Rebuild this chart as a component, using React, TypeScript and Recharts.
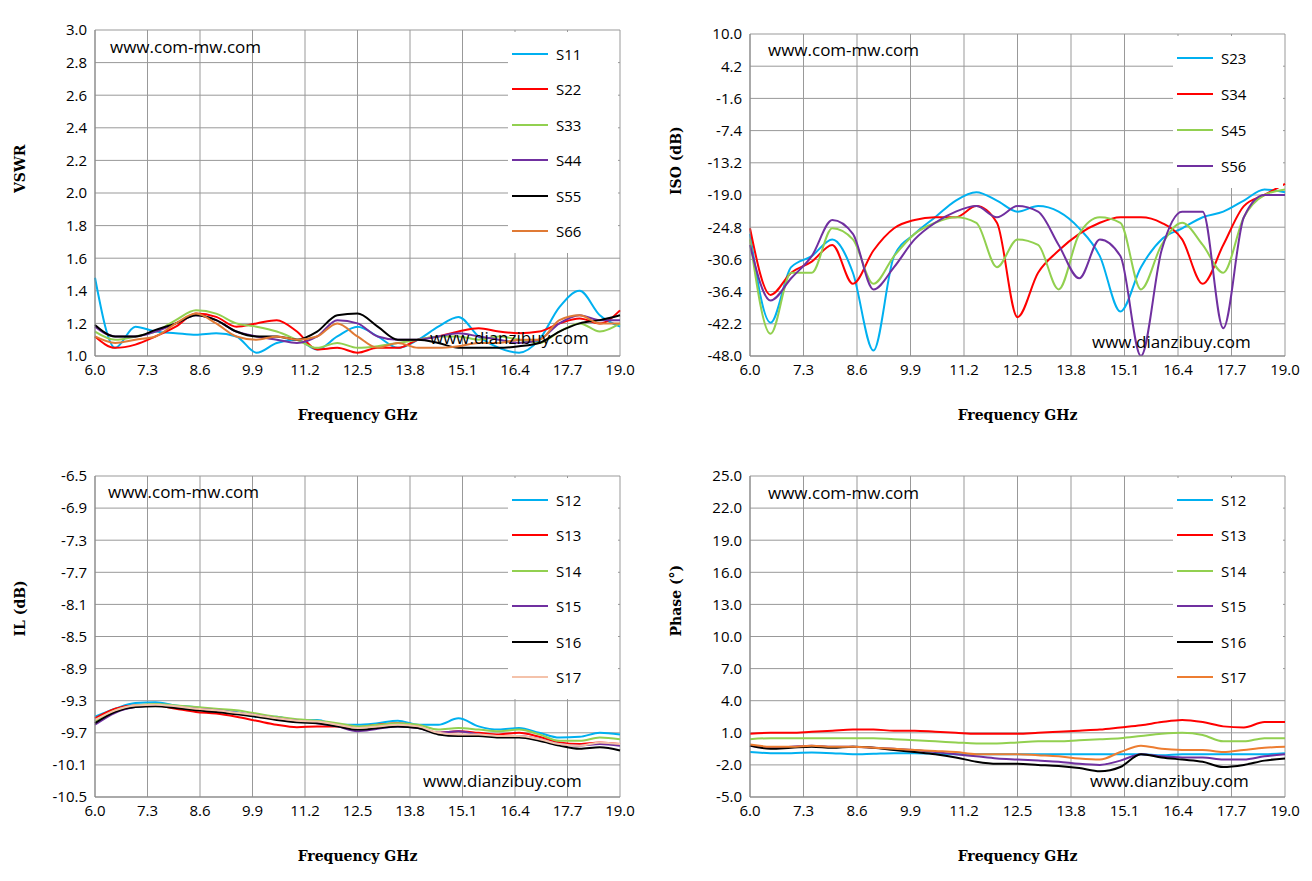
import React from 'react';
import { LineChart, Line, XAxis, YAxis, CartesianGrid } from 'recharts';

const freq = [6, 6.5, 7, 7.5, 8, 8.5, 9, 9.5, 10, 10.5, 11, 11.5, 12, 12.5, 13, 13.5, 14, 14.5, 15, 15.5, 16, 16.5, 17, 17.5, 18, 18.5, 19];
const freqTicks = [6.0, 7.3, 8.6, 9.9, 11.2, 12.5, 13.8, 15.1, 16.4, 17.7, 19.0];

// VSWR
const s11 = [1.48, 1.05, 1.18, 1.15, 1.14, 1.13, 1.14, 1.12, 1.02, 1.08, 1.1, 1.04, 1.12, 1.18, 1.12, 1.05, 1.1, 1.18, 1.24, 1.12, 1.05, 1.02, 1.1, 1.3, 1.4, 1.25, 1.18];
const s22 = [1.12, 1.05, 1.07, 1.12, 1.18, 1.26, 1.24, 1.18, 1.2, 1.22, 1.15, 1.04, 1.05, 1.02, 1.05, 1.05, 1.1, 1.12, 1.15, 1.17, 1.15, 1.14, 1.15, 1.2, 1.23, 1.2, 1.28];
const s33 = [1.15, 1.1, 1.12, 1.15, 1.22, 1.28, 1.26, 1.2, 1.18, 1.15, 1.1, 1.05, 1.08, 1.05, 1.06, 1.08, 1.1, 1.12, 1.12, 1.1, 1.12, 1.1, 1.08, 1.15, 1.2, 1.15, 1.2];
const s44 = [1.18, 1.12, 1.12, 1.15, 1.2, 1.25, 1.22, 1.15, 1.12, 1.1, 1.08, 1.12, 1.22, 1.2, 1.12, 1.1, 1.1, 1.12, 1.14, 1.12, 1.1, 1.08, 1.1, 1.2, 1.25, 1.22, 1.22];
const s55 = [1.19, 1.12, 1.12, 1.16, 1.2, 1.25, 1.22, 1.15, 1.12, 1.12, 1.1, 1.15, 1.25, 1.26, 1.18, 1.1, 1.1, 1.08, 1.05, 1.05, 1.05, 1.06, 1.08, 1.15, 1.2, 1.22, 1.25];
const s66 = [1.12, 1.08, 1.1, 1.12, 1.2, 1.26, 1.2, 1.12, 1.1, 1.12, 1.1, 1.12, 1.2, 1.12, 1.05, 1.08, 1.05, 1.05, 1.06, 1.08, 1.08, 1.1, 1.1, 1.22, 1.25, 1.2, 1.2];

// ISO
const s23 = [-26, -42, -32, -30, -27, -33, -47, -30, -26, -23, -20, -18.5, -20, -22, -21, -22, -25, -30, -40, -32, -27, -25, -23, -22, -20, -18, -18.5];
const s34 = [-25, -37, -33, -31, -28, -35, -29, -25, -23.5, -23, -23, -21, -24, -41, -33, -29, -26, -24, -23, -23, -24, -27, -35, -28, -21, -19, -17];
const s45 = [-27, -44, -33, -33, -25, -27, -35, -30, -26, -24, -23, -24, -32, -27, -28, -36, -26, -23, -24, -36, -28, -24, -28, -33, -23, -19, -18];
const s56 = [-28, -38, -34, -30, -23.5, -26, -36, -32, -27, -24, -22, -21, -23, -21, -22, -28, -34, -27, -30, -48, -29, -22, -22, -43, -23, -19, -19];

// IL
const il12 = [-9.5, -9.4, -9.33, -9.32, -9.36, -9.38, -9.42, -9.44, -9.5, -9.5, -9.55, -9.54, -9.6, -9.6, -9.58, -9.55, -9.6, -9.6, -9.52, -9.62, -9.66, -9.64, -9.7, -9.76, -9.75, -9.7, -9.72];
const il13 = [-9.52, -9.4, -9.36, -9.36, -9.4, -9.44, -9.46, -9.5, -9.55, -9.6, -9.63, -9.62, -9.62, -9.63, -9.6, -9.58, -9.62, -9.7, -9.68, -9.7, -9.72, -9.7, -9.75, -9.82, -9.84, -9.82, -9.84];
const il14 = [-9.55, -9.42, -9.36, -9.34, -9.36, -9.38, -9.4, -9.42, -9.46, -9.5, -9.53, -9.55, -9.58, -9.62, -9.6, -9.58, -9.6, -9.66, -9.64, -9.66, -9.68, -9.66, -9.72, -9.8, -9.8, -9.76, -9.78];
const il15 = [-9.6, -9.45, -9.38, -9.36, -9.38, -9.4, -9.42, -9.45, -9.48, -9.52, -9.55, -9.58, -9.62, -9.68, -9.65, -9.62, -9.64, -9.7, -9.68, -9.72, -9.74, -9.74, -9.78, -9.84, -9.86, -9.84, -9.86];
const il16 = [-9.58, -9.44, -9.38, -9.37, -9.39, -9.42, -9.44, -9.47, -9.5, -9.54, -9.57, -9.58, -9.62, -9.66, -9.64, -9.62, -9.64, -9.72, -9.74, -9.74, -9.76, -9.76, -9.8, -9.86, -9.9, -9.88, -9.92];
const il17 = [-9.54, -9.42, -9.36, -9.35, -9.37, -9.4, -9.42, -9.45, -9.48, -9.52, -9.55, -9.56, -9.6, -9.64, -9.62, -9.6, -9.62, -9.7, -9.72, -9.72, -9.74, -9.74, -9.78, -9.84, -9.86, -9.82, -9.84];

// Phase
const ph12 = [-0.8, -0.9, -0.9, -0.85, -0.9, -1.0, -0.95, -0.9, -0.9, -0.95, -1.0, -1.0, -1.0, -1.0, -1.0, -1.0, -1.0, -1.0, -1.0, -1.0, -1.1, -1.0, -1.0, -1.0, -1.0, -1.0, -0.9];
const ph13 = [0.9, 1.0, 1.0, 1.1, 1.2, 1.3, 1.3, 1.2, 1.2, 1.1, 1.0, 0.9, 0.9, 0.9, 1.0, 1.1, 1.2, 1.3, 1.5, 1.7, 2.0, 2.2, 2.0, 1.6, 1.5, 2.0, 2.0];
const ph14 = [0.4, 0.5, 0.5, 0.5, 0.5, 0.5, 0.5, 0.4, 0.3, 0.2, 0.1, 0.0, 0.0, 0.1, 0.2, 0.2, 0.3, 0.4, 0.5, 0.7, 0.9, 1.0, 0.8, 0.2, 0.2, 0.5, 0.5];
const ph15 = [-0.2, -0.4, -0.3, -0.2, -0.3, -0.3, -0.4, -0.5, -0.6, -0.8, -1.0, -1.2, -1.4, -1.5, -1.6, -1.7, -1.9, -2.0, -1.6, -1.0, -1.2, -1.3, -1.3, -1.5, -1.5, -1.2, -1.0];
const ph16 = [-0.2, -0.5, -0.4, -0.3, -0.4, -0.3, -0.4, -0.6, -0.8, -1.0, -1.3, -1.7, -1.9, -1.9, -2.0, -2.1, -2.3, -2.6, -2.2, -1.0, -1.3, -1.5, -1.7, -2.2, -2.0, -1.6, -1.4];
const ph17 = [-0.1, -0.3, -0.3, -0.2, -0.3, -0.3, -0.4, -0.5, -0.6, -0.7, -0.8, -1.0, -1.0, -1.0, -1.1, -1.2, -1.4, -1.5, -0.8, -0.2, -0.5, -0.6, -0.6, -0.8, -0.6, -0.4, -0.3];

const BLUE = '#00B0F0';
const RED = '#FF0000';
const GREEN = '#92D050';
const PURPLE = '#7030A0';
const BLACK = '#000000';
const ORANGE = '#E07A35';
const PINK = '#F4C2AA';

interface Series { name: string; values: number[]; color: string; }

function buildRows(series: Series[]) {
  return freq.map((f, i) => {
    const row: Record<string, number> = { f };
    series.forEach((s) => { row[s.name] = s.values[i]; });
    return row;
  });
}

function makeTicks(min: number, step: number, n: number) {
  return Array.from({ length: n }, (_, i) => +(min + step * i).toFixed(1));
}

interface PanelProps {
  left: number; top: number; height: number; marginTop: number; marginRight: number; yWidth: number;
  yLabel: string; yDomain: [number, number]; yTicks: number[];
  series: Series[]; legendGap: number;
}

const tickStyle = { fontFamily: 'Open Sans', fontSize: 15, fill: '#000' };
const titleStyle = { fontFamily: 'DejaVu Serif', fontSize: 14, fontWeight: 'bold', fill: '#000' };

function Panel(p: PanelProps) {
  const rows = buildRows(p.series);
  return (
    <div style={{ position: 'absolute', left: p.left, top: p.top }}>
      <LineChart width={656} height={p.height} data={rows}
        margin={{ top: p.marginTop, right: p.marginRight, left: 10, bottom: 14 }}>
        <CartesianGrid stroke="#999" strokeWidth={1} />
        <XAxis dataKey="f" type="number" domain={[6, 19]} ticks={freqTicks} interval={0}
          tickFormatter={(v) => v.toFixed(1)} tick={tickStyle} tickLine={false} stroke="#888"
          height={70} label={{ value: 'Frequency GHz', position: 'insideBottom', offset: 6, style: titleStyle }} />
        <YAxis domain={p.yDomain} ticks={p.yTicks} interval={0} allowDataOverflow
          tickFormatter={(v) => v.toFixed(1)} tick={tickStyle} tickLine={false} stroke="#888" width={p.yWidth}
          label={{ value: p.yLabel, angle: -90, position: 'insideLeft', offset: 10, style: titleStyle }} />
        {p.series.map((s) => (
          <Line key={s.name} type="monotone" dataKey={s.name} stroke={s.color} strokeWidth={2}
            dot={false} isAnimationActive={false} />
        ))}
      </LineChart>
      <div style={{ position: 'absolute', top: p.marginTop + 2, right: p.marginRight + 2, width: 102, background: '#fff', padding: '4px 4px' }}>
        {p.series.map((s) => (
          <div key={s.name} style={{ display: 'flex', alignItems: 'center', height: p.legendGap, fontFamily: 'Open Sans', fontSize: 15 }}>
            <div style={{ width: 36, height: 2, background: s.color, marginRight: 8 }} />
            {s.name}
          </div>
        ))}
      </div>
    </div>
  );
}

const wm: React.CSSProperties = { position: 'absolute', fontFamily: 'Open Sans', fontSize: 17, color: '#000' };

export default function App() {
  return (
    <div style={{ position: 'absolute', left: 0, top: 0, width: 1312, height: 881, background: '#fff' }}>
      <Panel left={0} top={0} height={440} marginTop={30} marginRight={36} yWidth={85}
        yLabel="VSWR" yDomain={[1, 3]} yTicks={makeTicks(1, 0.2, 11)} legendGap={35.5}
        series={[
          { name: 'S11', values: s11, color: BLUE },
          { name: 'S22', values: s22, color: RED },
          { name: 'S33', values: s33, color: GREEN },
          { name: 'S44', values: s44, color: PURPLE },
          { name: 'S55', values: s55, color: BLACK },
          { name: 'S66', values: s66, color: ORANGE },
        ]} />
      <Panel left={656} top={0} height={440} marginTop={34} marginRight={27} yWidth={84}
        yLabel="ISO (dB)" yDomain={[-48, 10]} yTicks={makeTicks(-48, 5.8, 11)} legendGap={36}
        series={[
          { name: 'S23', values: s23, color: BLUE },
          { name: 'S34', values: s34, color: RED },
          { name: 'S45', values: s45, color: GREEN },
          { name: 'S56', values: s56, color: PURPLE },
        ]} />
      <Panel left={0} top={440} height={441} marginTop={36} marginRight={36} yWidth={85}
        yLabel="IL (dB)" yDomain={[-10.5, -6.5]} yTicks={makeTicks(-10.5, 0.4, 11)} legendGap={35.5}
        series={[
          { name: 'S12', values: il12, color: BLUE },
          { name: 'S13', values: il13, color: RED },
          { name: 'S14', values: il14, color: GREEN },
          { name: 'S15', values: il15, color: PURPLE },
          { name: 'S16', values: il16, color: BLACK },
          { name: 'S17', values: il17, color: PINK },
        ]} />
      <Panel left={656} top={440} height={441} marginTop={36} marginRight={27} yWidth={84}
        yLabel="Phase (°)" yDomain={[-5, 25]} yTicks={makeTicks(-5, 3, 11)} legendGap={35.5}
        series={[
          { name: 'S12', values: ph12, color: BLUE },
          { name: 'S13', values: ph13, color: RED },
          { name: 'S14', values: ph14, color: GREEN },
          { name: 'S15', values: ph15, color: PURPLE },
          { name: 'S16', values: ph16, color: BLACK },
          { name: 'S17', values: ph17, color: '#ED7D31' },
        ]} />
      <div style={{ ...wm, left: 110, top: 35 }}>www.com-mw.com</div>
      <div style={{ ...wm, left: 430, top: 326 }}>www.dianzibuy.com</div>
      <div style={{ ...wm, left: 768, top: 38 }}>www.com-mw.com</div>
      <div style={{ ...wm, left: 1092, top: 330 }}>www.dianzibuy.com</div>
      <div style={{ ...wm, left: 108, top: 480 }}>www.com-mw.com</div>
      <div style={{ ...wm, left: 423, top: 769 }}>www.dianzibuy.com</div>
      <div style={{ ...wm, left: 768, top: 481 }}>www.com-mw.com</div>
      <div style={{ ...wm, left: 1090, top: 769 }}>www.dianzibuy.com</div>
    </div>
  );
}
